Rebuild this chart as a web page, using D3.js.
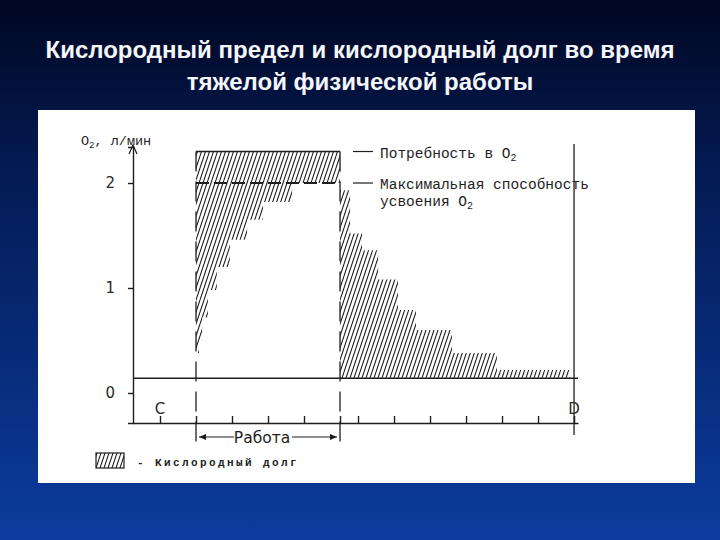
<!DOCTYPE html>
<html>
<head>
<meta charset="utf-8">
<script src="https://cdn.jsdelivr.net/npm/d3@7"></script>
<style>
  body { margin: 0; background: #000; }
</style>
</head>
<body>
<div id="graphic"></div>
<script>
(function() {

  var width = 720,
      height = 540

  var titleLines = ["Кислородный предел и кислородный долг во время", "тяжелой физической работы"]

  // levels, л/мин
  var demand = 2.3
  var maxUptake = 2.0
  var restLevel = 0.14

  // uptake during work (time in minutes, stepped)
  var workTimes = [1, 1.08, 1.17, 1.33, 1.58, 1.94, 2.42, 2.86, 3.67, 5]
  var workUptake = [0.38, 0.5, 0.72, 0.98, 1.2, 1.46, 1.65, 1.82, 2.0, 2.0]

  // uptake during recovery
  var recoveryTimes = [5, 5.28, 5.61, 6.06, 6.61, 7.11, 8.11, 9.36, 11.39]
  var recoveryUptake = [1.93, 1.52, 1.36, 1.08, 0.79, 0.6, 0.38, 0.22, 0.22]

  var workStart = 1,
      workEnd = 5,
      pointC = 0,
      pointD = 11.5

  var xTicks = [0, 1, 2, 3, 4, 5, 5.5, 6.5, 7.5, 8.5, 9.5, 10.5, 11.5]
  var yTicks = [0, 1, 2]
  var yTickLabels = ["0", "1", "2"]

  var mono = "'Liberation Mono', 'DejaVu Sans Mono', monospace"
  var ink = "#1e1e1e"

  var svg = d3.select("#graphic")
    .append("svg")
    .attr("width", width)
    .attr("height", height)
    .style("display", "block")

  var defs = svg.append("defs")

  // slide background
  var grad = defs.append("linearGradient")
    .attr("id", "bg")
    .attr("x1", 0).attr("y1", 0)
    .attr("x2", 0).attr("y2", 1)
  grad.append("stop").attr("offset", "0%").attr("stop-color", "#010722")
  grad.append("stop").attr("offset", "30%").attr("stop-color", "#041a52")
  grad.append("stop").attr("offset", "100%").attr("stop-color", "#0b3c9e")

  // diagonal hatch
  var hatch = defs.append("pattern")
    .attr("id", "hatch")
    .attr("patternUnits", "userSpaceOnUse")
    .attr("width", 4)
    .attr("height", 12)
  hatch.selectAll("line")
    .data([-4, 0, 4])
    .enter().append("line")
    .attr("x1", function(d) { return d })
    .attr("y1", 12)
    .attr("x2", function(d) { return d + 4 })
    .attr("y2", 0)
    .attr("stroke", "#1a1a1a")
    .attr("stroke-width", 1.05)

  svg.append("rect")
    .attr("width", width)
    .attr("height", height)
    .attr("fill", "url(#bg)")

  svg.selectAll(".title")
    .data(titleLines)
    .enter().append("text")
    .attr("class", "title")
    .attr("x", 360)
    .attr("y", function(d, i) { return 58 + i * 32 })
    .attr("text-anchor", "middle")
    .attr("fill", "#f4f6fb")
    .style("font-family", "'Liberation Sans', Arial, sans-serif")
    .style("font-weight", "bold")
    .style("font-size", "24px")
    .text(function(d) { return d })

  // white picture panel
  svg.append("rect")
    .attr("x", 38)
    .attr("y", 110)
    .attr("width", 657)
    .attr("height", 373)
    .attr("fill", "#fff")

  var xPositionScale = d3.scaleLinear().domain([-0.75, 11.61]).range([133, 578])
  var yPositionScale = d3.scaleLinear().domain([-0.286, 2.343]).range([423, 147])

  // oxygen debt during work
  var workArea = d3.area()
    .x(function(d) { return xPositionScale(d.t) })
    .y0(function(d) { return yPositionScale(d.v) })
    .y1(yPositionScale(demand))
    .curve(d3.curveStepAfter)

  svg.append("path")
    .datum(workTimes.map(function(t, i) { return { t: t, v: workUptake[i] } }))
    .attr("d", workArea)
    .attr("fill", "url(#hatch)")

  // oxygen debt repaid after work
  var recoveryArea = d3.area()
    .x(function(d) { return xPositionScale(d.t) })
    .y0(yPositionScale(restLevel))
    .y1(function(d) { return yPositionScale(d.v) })
    .curve(d3.curveStepAfter)

  svg.append("path")
    .datum(recoveryTimes.map(function(t, i) { return { t: t, v: recoveryUptake[i] } }))
    .attr("d", recoveryArea)
    .attr("fill", "url(#hatch)")

  // demand line
  svg.append("line")
    .attr("x1", xPositionScale(workStart))
    .attr("x2", xPositionScale(workEnd))
    .attr("y1", yPositionScale(demand))
    .attr("y2", yPositionScale(demand))
    .attr("stroke", ink)
    .attr("stroke-width", 1.6)

  // max uptake, dashed
  svg.append("line")
    .attr("x1", xPositionScale(workStart))
    .attr("x2", xPositionScale(workEnd))
    .attr("y1", yPositionScale(maxUptake))
    .attr("y2", yPositionScale(maxUptake))
    .attr("stroke", ink)
    .attr("stroke-width", 1.8)
    .attr("stroke-dasharray", "13,5")

  // resting level
  svg.append("line")
    .attr("x1", xPositionScale(-0.75))
    .attr("x2", xPositionScale(11.61))
    .attr("y1", yPositionScale(restLevel))
    .attr("y2", yPositionScale(restLevel))
    .attr("stroke", ink)
    .attr("stroke-width", 1.6)

  // work start / end markers
  svg.selectAll(".work-edge")
    .data([workStart, workEnd])
    .enter().append("line")
    .attr("class", "work-edge")
    .attr("x1", function(d) { return xPositionScale(d) })
    .attr("x2", function(d) { return xPositionScale(d) })
    .attr("y1", yPositionScale(demand))
    .attr("y2", 446)
    .attr("stroke", ink)
    .attr("stroke-width", 1.3)
    .attr("stroke-dasharray", "20,10")

  // point D line
  svg.append("line")
    .attr("x1", xPositionScale(pointD))
    .attr("x2", xPositionScale(pointD))
    .attr("y1", 144)
    .attr("y2", 435)
    .attr("stroke", ink)
    .attr("stroke-width", 1.3)

  // axes
  var xAxis = d3.axisBottom(xPositionScale)
    .tickValues(xTicks)
    .tickSizeInner(-7)
    .tickSizeOuter(0)
    .tickFormat("")
  svg.append("g")
    .attr("class", "x-axis")
    .attr("transform", "translate(0,423)")
    .call(xAxis)

  var yAxis = d3.axisLeft(yPositionScale)
    .tickValues(yTicks)
    .tickSize(5)
    .tickPadding(13)
    .tickFormat(function(d, i) { return yTickLabels[i] })
  svg.append("g")
    .attr("class", "y-axis")
    .attr("transform", "translate(133,0)")
    .call(yAxis)

  svg.selectAll(".x-axis path, .x-axis line, .y-axis path, .y-axis line")
    .attr("stroke", ink)
    .attr("stroke-width", 1.4)
  svg.selectAll(".y-axis text")
    .attr("fill", "#2a2a2a")
    .style("font-family", "'DejaVu Sans', sans-serif")
    .style("font-size", "15px")

  // arrow tip on y axis
  svg.append("path")
    .attr("d", "M129,154 L133,145 L137,154")
    .attr("fill", "none")
    .attr("stroke", ink)
    .attr("stroke-width", 1.2)

  var yLabel = svg.append("text")
    .attr("x", 81)
    .attr("y", 145)
    .attr("fill", ink)
    .style("font-family", mono)
    .style("font-size", "13.5px")
  yLabel.append("tspan").text("O")
  yLabel.append("tspan").attr("dy", 3).style("font-size", "9px").text("2")
  yLabel.append("tspan").attr("dy", -3).text(", л/мин")

  // C and D
  svg.selectAll(".point-label")
    .data([{ t: pointC, name: "C" }, { t: pointD, name: "D" }])
    .enter().append("text")
    .attr("class", "point-label")
    .attr("x", function(d) { return xPositionScale(d.t) })
    .attr("y", 414)
    .attr("text-anchor", "middle")
    .attr("fill", "#2a2a2a")
    .style("font-family", "'DejaVu Sans', sans-serif")
    .style("font-size", "15px")
    .text(function(d) { return d.name })

  // "Работа" with arrows
  var arrowY = 437
  svg.append("text")
    .attr("x", (xPositionScale(workStart) + xPositionScale(workEnd)) / 2 - 6)
    .attr("y", arrowY + 6)
    .attr("text-anchor", "middle")
    .attr("fill", ink)
    .style("font-family", "'DejaVu Sans', sans-serif")
    .style("font-size", "15.5px")
    .text("Работа")

  var ax1 = xPositionScale(workStart) + 3,
      ax2 = xPositionScale(workEnd) - 3
  svg.append("path")
    .attr("d", "M" + ax1 + "," + arrowY + " L" + 234 + "," + arrowY +
      " M" + 292 + "," + arrowY + " L" + ax2 + "," + arrowY)
    .attr("stroke", ink)
    .attr("stroke-width", 1.2)
  svg.append("path")
    .attr("d", "M" + ax1 + "," + arrowY + " l7,-3 l0,6 Z M" + ax2 + "," + arrowY + " l-7,-3 l0,6 Z")
    .attr("fill", ink)

  // legend on the right
  var legendItems = [
    { v: demand, lines: [["Потребность в O", "2"]] },
    { v: maxUptake, lines: [["Максимальная способность", ""], ["усвоения O", "2"]] }
  ]
  var legend = svg.selectAll(".legend")
    .data(legendItems)
    .enter().append("g")
    .attr("class", "legend")
    .attr("transform", function(d) { return "translate(0," + yPositionScale(d.v) + ")" })

  legend.append("line")
    .attr("x1", 353)
    .attr("x2", 373)
    .attr("stroke", ink)
    .attr("stroke-width", 1.2)

  legend.each(function(d) {
    var g = d3.select(this)
    d.lines.forEach(function(line, i) {
      var txt = g.append("text")
        .attr("x", 380)
        .attr("y", 6 + i * 17)
        .attr("fill", ink)
        .style("font-family", mono)
        .style("font-size", "14.5px")
      txt.append("tspan").text(line[0])
      if (line[1]) {
        txt.append("tspan").attr("dy", 3).style("font-size", "10px").text(line[1])
      }
    })
  })

  // bottom legend: oxygen debt
  svg.append("rect")
    .attr("x", 96)
    .attr("y", 453)
    .attr("width", 28)
    .attr("height", 15)
    .attr("fill", "url(#hatch)")
    .attr("stroke", ink)
    .attr("stroke-width", 1.2)

  svg.append("text")
    .attr("x", 137)
    .attr("y", 466)
    .attr("fill", ink)
    .style("font-family", mono)
    .style("font-size", "11px")
    .style("font-weight", "bold")
    .style("letter-spacing", "2.4px")
    .text("-  Кислородный долг")

})()
</script>
</body>
</html>
